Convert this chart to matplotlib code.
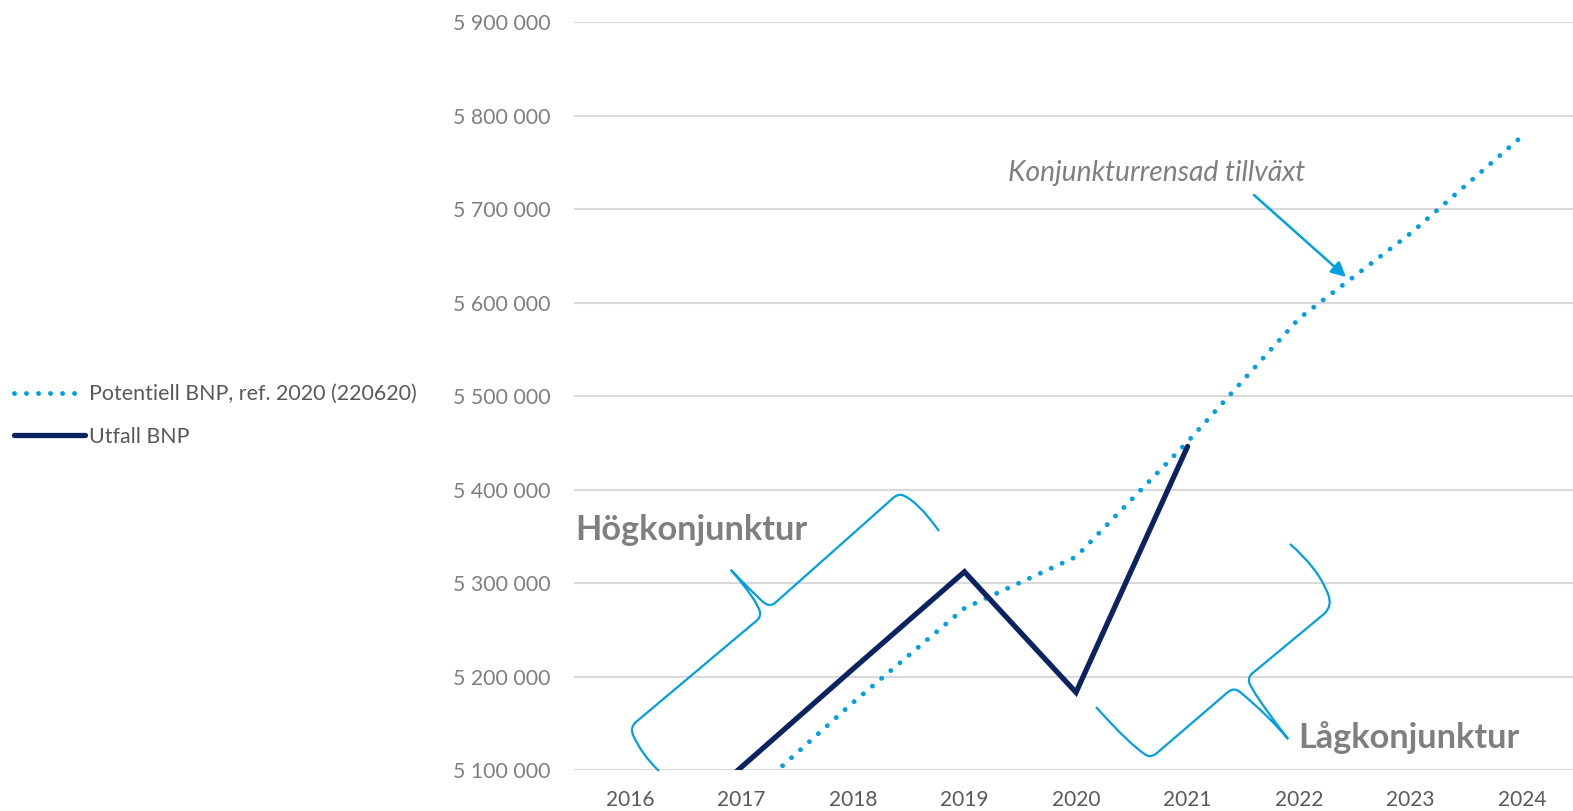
import matplotlib.pyplot as plt
from matplotlib.path import Path
from matplotlib.patches import PathPatch
from matplotlib.ticker import FuncFormatter

plt.rcParams['font.family'] = ['Lato', 'DejaVu Sans']

# data
years = ['2016', '2017', '2018', '2019', '2020', '2021', '2022', '2023', '2024']
potentiell = [4_985_000, 5_065_000, 5_172_000, 5_273_000, 5_328_000,
              5_451_000, 5_583_000, 5_674_000, 5_778_000]
utfall = [4_995_000, 5_103_000, 5_208_000, 5_312_000, 5_183_000, 5_446_000]
y_ticks = list(range(5_100_000, 5_900_001, 100_000))

LIGHT = '#00A0E3'
DARK = '#0B2360'
GREY = '#7F7F7F'
W, H = 1573, 811


def px(x, y):
    # pixel (top-left origin) -> figure fraction
    return (x / W, 1 - y / H)


def brace(fig, pts_codes):
    verts = [px(*p) for p, _ in pts_codes]
    codes = [c for _, c in pts_codes]
    patch = PathPatch(Path(verts, codes), transform=fig.transFigure,
                      fill=False, edgecolor=LIGHT, lw=1.6, clip_on=False)
    fig.patches.append(patch)


fig = plt.figure(figsize=(W / 100, H / 100), dpi=100)
ax = fig.add_axes([574 / W, 41 / H, 1004 / W, 748 / H])

x = range(len(years))
l1, = ax.plot(x, potentiell, color=LIGHT, lw=3.5, linestyle=(0, (0.01, 2.46)),
              dash_capstyle='round', solid_capstyle='round')
l2, = ax.plot(range(len(utfall)), utfall, color=DARK, lw=3.8,
              solid_capstyle='round', solid_joinstyle='miter')

ax.set_xlim(-0.5, len(years) - 0.5)
ax.set_ylim(y_ticks[0], y_ticks[-1])
ax.set_xticks(list(x))
ax.set_xticklabels(years)
ax.set_yticks(y_ticks)
ax.yaxis.set_major_formatter(FuncFormatter(lambda v, p: f'{int(v):,}'.replace(',', ' ')))
ax.grid(axis='y', color='#D9D9D9', lw=1.5)
ax.set_axisbelow(True)
for s in ax.spines.values():
    s.set_visible(False)
ax.tick_params(axis='both', length=0)
ax.tick_params(axis='y', labelsize=15.3, labelcolor=GREY, pad=17)
ax.tick_params(axis='x', labelsize=15, labelcolor='#595959', pad=14.5)

# legend
fig.legend([l1, l2], ['Potentiell BNP, ref. 2020 (220620)', 'Utfall BNP'],
           loc='upper left', bbox_to_anchor=px(-5, 365), frameon=False,
           fontsize=15.4, labelcolor='#595959', handlelength=3.3,
           handletextpad=0.2, labelspacing=1.05)

# annotations
fig.text(*px(575, 530), 'Högkonjunktur', fontsize=24.7, fontweight='bold',
         color=GREY, va='center', ha='left')
fig.text(*px(1298, 738), 'Lågkonjunktur', fontsize=24.7, fontweight='bold',
         color=GREY, va='center', ha='left')
fig.text(*px(1157, 173), 'Konjunkturrensad tillväxt', fontsize=20.3,
         fontstyle='italic', color=GREY, va='center', ha='center')
ax.annotate('', xy=px(1346, 277), xytext=px(1254, 195),
            xycoords='figure fraction', textcoords='figure fraction',
            arrowprops=dict(arrowstyle='-|>', color=LIGHT, lw=1.8,
                            mutation_scale=22, shrinkA=0, shrinkB=0))

M, L, C = Path.MOVETO, Path.LINETO, Path.CURVE3
brace(fig, [
    ((939, 531), M), ((917, 500), C), ((902, 495), C),
    ((897, 494), C), ((892, 499), C),
    ((775, 603), L), ((769, 608), C), ((762, 601), C),
    ((745, 585), C), ((731, 570), C),
    ((757, 600), C), ((760, 612), C),
    ((761, 618), C), ((755, 622), C),
    ((636, 722), L), ((630, 727), C), ((633, 735), C),
    ((642, 755), C), ((659, 771), C),
])
brace(fig, [
    ((1096, 707), M), ((1130, 745), C), ((1146, 755), C),
    ((1151, 758), C), ((1157, 753), C),
    ((1228, 692), L), ((1234, 687), C), ((1240, 692), C),
    ((1268, 715), C), ((1288, 739), C),
    ((1252, 692), C), ((1249, 682), C),
    ((1248, 676), C), ((1254, 672), C),
    ((1324, 614), L), ((1333, 606), C), ((1328, 594), C),
    ((1318, 568), C), ((1290, 544), C),
])

fig.savefig('out.png', dpi=100)
